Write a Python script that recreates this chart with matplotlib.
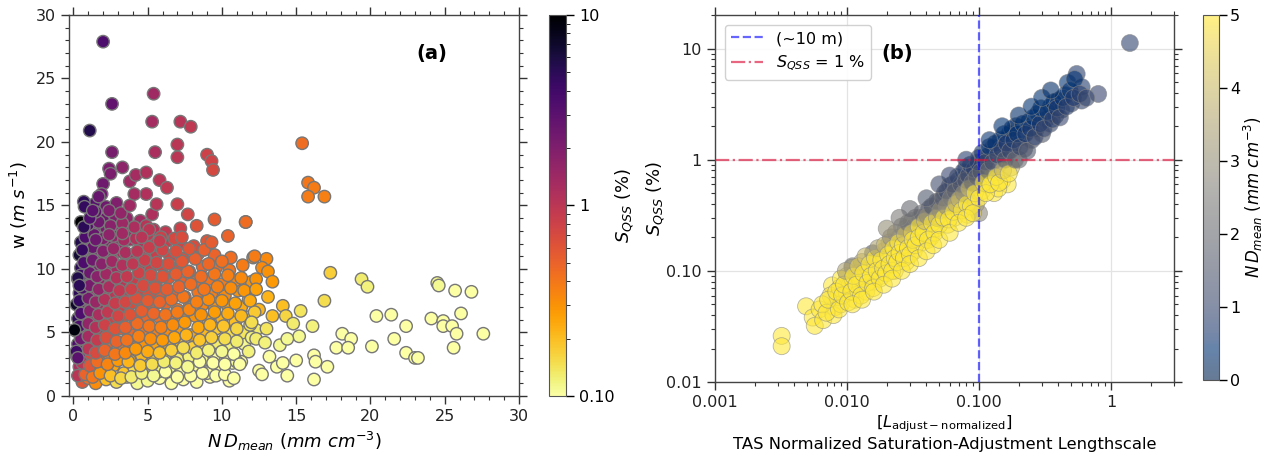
import numpy as np
import matplotlib.pyplot as plt
from matplotlib.colors import LogNorm, Normalize
from matplotlib.ticker import MultipleLocator, LogLocator, FixedLocator, NullFormatter

# ---- panel (a): w vs N*Dmean, coloured by S_QSS ----
# sparse points at the edges of the cloud
nd_edge = [2.0, 1.1, 2.6, 5.4, 5.3, 7.2, 7.9, 5.5, 7.0, 7.0, 9.0, 9.3, 9.4, 15.4, 15.8, 16.2,
           15.8, 16.9, 2.6, 2.4, 3.3, 2.5, 2.0, 1.9, 1.7, 0.7, 0.75, 0.5, 0.7, 1.1, 1.3, 3.8,
           4.2, 4.9, 4.1, 4.9, 5.6, 3.8, 5.8, 6.3, 7.0, 7.7, 9.5, 11.6, 8.3, 7.3, 10.4, 9.3,
           12.2, 2.4, 3.3, 1.5, 0.6, 5.1, 5.8, 4.6, 0.3, 0.4, 0.07, 0.2, 0.3]
w_edge = [27.9, 20.9, 23.0, 23.8, 21.6, 21.6, 21.2, 19.2, 19.8, 18.8, 19.0, 18.5, 17.8, 19.9, 16.8, 16.4,
          15.7, 15.7, 19.2, 17.9, 18.0, 17.5, 16.7, 15.9, 15.7, 15.3, 14.9, 13.7, 13.3, 14.0, 14.6, 16.9,
          17.4, 17.6, 15.9, 15.9, 15.1, 15.0, 17.0, 16.4, 15.1, 14.3, 13.9, 13.7, 13.4, 12.5, 12.6, 12.1,
          11.0, 12.7, 12.8, 12.3, 11.5, 13.1, 12.2, 12.5, 9.3, 8.7, 5.2, 3.5, 3.0]
s_edge = [3.5, 5.5, 2.8, 1.4, 1.3, 1.05, 0.95, 1.2, 1.0, 1.0, 0.8, 0.78, 0.72, 0.45, 0.4, 0.38,
          0.38, 0.36, 2.2, 2.1, 1.7, 2.1, 2.4, 2.4, 2.6, 5.0, 4.6, 10.0, 5.0, 3.4, 3.0, 1.4,
          1.3, 1.15, 1.3, 1.15, 1.05, 1.4, 1.05, 0.95, 0.85, 0.75, 0.55, 0.45, 0.62, 0.68, 0.5, 0.55,
          0.38, 1.7, 1.4, 2.5, 4.5, 1.0, 0.9, 1.05, 5.5, 5.0, 9.0, 4.0, 3.0]

# dense core of the cloud, read row by row
nd_core = [0.6, 1.0, 1.5, 2.2, 2.9, 3.6, 4.3, 5.0, 5.8, 6.6, 7.4, 8.3, 9.2, 10.5,
           0.4, 0.9, 1.4, 2.0, 2.7, 3.4, 4.1, 4.9, 5.7, 6.5, 7.3, 8.1, 9.0, 9.8, 10.7,
           0.2, 0.7, 1.2, 1.8, 2.4, 3.1, 3.8, 4.6, 5.4, 6.2, 7.0, 7.8, 8.7, 9.5, 10.4, 11.3,
           0.3, 0.8, 1.3, 1.9, 2.5, 3.2, 4.0, 4.8, 5.6, 6.4, 7.2, 8.0, 8.9, 9.7, 10.6, 11.5,
           0.2, 0.7, 1.2, 1.8, 2.5, 3.2, 3.9, 4.7, 5.5, 6.3, 7.1, 7.9, 8.8, 9.6, 10.5, 11.4, 12.3,
           0.3, 0.8, 1.4, 2.0, 2.7, 3.4, 4.2, 5.0, 5.8, 6.6, 7.4, 8.2, 9.1, 10.0, 10.9, 11.8,
           0.2, 0.7, 1.2, 1.8, 2.4, 3.1, 3.8, 4.6, 5.4, 6.2, 7.0, 7.8, 8.7, 9.5, 10.4, 11.3, 12.5,
           0.4, 0.9, 1.5, 2.1, 2.8, 3.5, 4.3, 5.1, 5.9, 6.7, 7.5, 8.4, 9.3, 10.2, 11.1,
           0.3, 0.8, 1.3, 1.9, 2.5, 3.2, 4.0, 4.8, 5.6, 6.4, 7.3, 8.2, 9.1, 10.0, 10.9, 12.0,
           0.5, 1.0, 1.6, 2.2, 2.9, 3.6, 4.4, 5.2, 6.0, 6.9, 7.8, 8.7, 9.6, 10.5, 11.4,
           0.4, 0.9, 1.4, 2.0, 2.6, 3.3, 4.0, 4.8, 5.6, 6.5, 7.4, 8.4, 9.5, 10.6,
           0.5, 1.1, 1.7, 2.3, 3.0, 3.8, 4.6, 5.5, 6.3, 7.2, 8.1, 9.0,
           0.9, 1.5, 2.2, 2.9, 3.7, 4.5, 5.4, 6.2, 7.2,
           1.3, 2.0, 2.8, 3.6, 4.5, 5.3,
           1.4, 2.2, 2.9]
w_core = [1.1, 1.4, 1.0, 1.3, 1.1, 1.5, 1.0, 1.2, 1.4, 1.0, 1.3, 1.1, 1.5, 1.2,
          2.3, 1.9, 2.2, 2.0, 2.4, 1.8, 2.2, 2.5, 1.9, 2.3, 2.0, 2.4, 1.8, 2.2, 2.6,
          3.2, 2.9, 3.1, 2.8, 3.3, 3.0, 2.8, 3.2, 3.0, 3.3, 2.9, 3.1, 2.8, 3.2, 3.0, 2.7,
          4.1, 3.8, 4.2, 3.9, 4.3, 4.0, 3.8, 4.2, 3.9, 4.1, 4.3, 3.8, 4.0, 4.2, 3.9, 4.1,
          5.1, 4.8, 5.2, 4.9, 5.0, 5.3, 4.8, 5.1, 4.9, 5.2, 5.0, 4.8, 5.1, 5.3, 4.9, 5.0, 5.2,
          6.1, 5.9, 6.2, 5.8, 6.0, 6.3, 5.9, 6.1, 6.2, 5.8, 6.0, 6.3, 5.9, 6.1, 5.8, 6.2,
          7.2, 6.9, 7.1, 7.3, 6.8, 7.0, 7.2, 6.9, 7.1, 7.3, 6.8, 7.0, 7.2, 6.9, 7.1, 7.0, 6.8,
          8.1, 7.9, 8.2, 8.0, 7.8, 8.3, 8.1, 7.9, 8.2, 8.0, 7.8, 8.2, 8.1, 7.9, 8.3,
          9.2, 8.9, 9.1, 9.3, 8.8, 9.0, 9.2, 8.9, 9.1, 9.3, 8.9, 9.0, 9.2, 8.8, 9.1, 9.0,
          10.1, 9.9, 10.2, 10.0, 9.8, 10.3, 10.1, 9.9, 10.2, 10.0, 9.8, 10.2, 10.1, 9.9, 10.3,
          11.1, 10.9, 11.2, 11.0, 10.8, 11.3, 11.1, 10.9, 11.2, 11.0, 10.8, 11.2, 11.1, 10.9,
          12.1, 11.9, 12.2, 12.0, 11.8, 12.3, 12.1, 11.9, 12.2, 12.0, 11.8, 12.2,
          13.1, 12.9, 13.2, 13.0, 12.8, 13.3, 13.1, 12.9, 13.2,
          14.1, 13.9, 14.2, 14.0, 13.8, 14.3,
          15.1, 14.9, 15.2]
s_core = [0.6, 0.45, 0.32, 0.2, 0.15, 0.13, 0.11, 0.11, 0.1, 0.1, 0.1, 0.1, 0.1, 0.1,
          1.2, 0.6, 0.45, 0.35, 0.25, 0.19, 0.15, 0.13, 0.12, 0.11, 0.1, 0.1, 0.1, 0.1, 0.1,
          3.0, 1.0, 0.7, 0.5, 0.38, 0.3, 0.25, 0.21, 0.17, 0.15, 0.13, 0.12, 0.11, 0.1, 0.1, 0.1,
          3.5, 1.3, 0.9, 0.65, 0.5, 0.42, 0.36, 0.3, 0.26, 0.23, 0.2, 0.17, 0.15, 0.13, 0.12, 0.11,
          6.0, 1.8, 1.15, 0.85, 0.65, 0.54, 0.47, 0.41, 0.37, 0.33, 0.29, 0.25, 0.21, 0.18, 0.15, 0.14, 0.13,
          5.0, 2.0, 1.3, 1.0, 0.78, 0.64, 0.55, 0.48, 0.43, 0.38, 0.34, 0.3, 0.27, 0.23, 0.2, 0.17,
          7.0, 2.4, 1.6, 1.2, 0.95, 0.8, 0.68, 0.6, 0.53, 0.47, 0.42, 0.38, 0.34, 0.3, 0.27, 0.24, 0.22,
          5.0, 2.5, 1.7, 1.3, 1.0, 0.85, 0.73, 0.64, 0.57, 0.51, 0.46, 0.41, 0.37, 0.33, 0.3,
          6.5, 3.0, 2.0, 1.5, 1.2, 1.0, 0.85, 0.74, 0.66, 0.58, 0.52, 0.47, 0.42, 0.38, 0.35, 0.3,
          5.0, 3.0, 2.1, 1.6, 1.3, 1.1, 0.93, 0.82, 0.72, 0.64, 0.57, 0.5, 0.45, 0.41, 0.38,
          6.5, 3.5, 2.5, 1.9, 1.55, 1.28, 1.1, 0.95, 0.84, 0.73, 0.64, 0.56, 0.5, 0.45,
          5.5, 3.2, 2.4, 1.9, 1.55, 1.28, 1.1, 0.96, 0.86, 0.76, 0.68, 0.6,
          4.5, 2.9, 2.2, 1.75, 1.45, 1.25, 1.07, 0.95, 0.82,
          3.5, 2.5, 1.95, 1.6, 1.35, 1.18,
          3.2, 2.4, 1.95]

# points lying between the rows above
nd_mid = [0.3, 0.8, 1.3, 1.8, 2.5, 3.2, 3.9, 4.6, 5.4, 6.2, 7.0, 7.9, 8.7, 9.6, 10.2,
          0.6, 1.1, 1.6, 2.3, 3.0, 3.7, 4.5, 5.3, 6.1, 6.9, 7.7, 8.5, 9.4, 10.2, 11.0,
          0.5, 1.0, 1.5, 2.1, 2.8, 3.5, 4.2, 5.0, 5.8, 6.6, 7.4, 8.3, 9.1, 10.0, 10.8,
          0.5, 1.0, 1.6, 2.2, 2.9, 3.6, 4.4, 5.2, 6.0, 6.8, 7.6, 8.5, 9.3, 10.2, 11.0, 12.0,
          0.4, 1.0, 1.5, 2.1, 2.8, 3.5, 4.3, 5.1, 5.9, 6.7, 7.5, 8.4, 9.2, 10.1, 11.0, 11.9,
          0.5, 1.1, 1.7, 2.3, 3.0, 3.8, 4.6, 5.4, 6.2, 7.0, 7.8, 8.6, 9.5, 10.4, 11.3, 12.2,
          0.4, 1.0, 1.5, 2.1, 2.8, 3.5, 4.2, 5.0, 5.8, 6.6, 7.4, 8.3, 9.1, 10.0, 10.9, 11.8,
          0.6, 1.1, 1.7, 2.4, 3.1, 3.9, 4.7, 5.5, 6.3, 7.1, 7.9, 8.8, 9.7, 10.6, 11.5,
          0.5, 1.1, 1.6, 2.2, 2.9, 3.6, 4.4, 5.2, 6.0, 6.9, 7.7, 8.6, 9.5, 10.4, 11.3,
          0.7, 1.3, 1.9, 2.6, 3.3, 4.0, 4.8, 5.6, 6.4, 7.3, 8.2, 9.1, 10.0,
          0.7, 1.3, 2.0, 2.7, 3.5, 4.3, 5.1, 6.0, 6.9, 7.8, 8.8,
          0.8, 1.4, 2.0, 2.7, 3.4, 4.2, 5.0, 5.9, 6.8,
          1.0, 1.7, 2.5, 3.3, 4.1, 4.9,
          1.5, 2.4, 3.2]
w_mid = [1.6, 1.7, 1.5, 1.8, 1.6, 1.4, 1.5, 1.8, 1.6, 1.9, 1.5, 1.6, 1.8, 1.6, 1.7,
         2.6, 2.4, 2.7, 2.5, 2.8, 2.7, 2.4, 2.5, 2.7, 2.6, 2.3, 2.7, 2.6, 2.5, 2.7,
         3.5, 3.7, 3.4, 3.6, 3.3, 3.4, 3.7, 3.5, 3.4, 3.6, 3.8, 3.4, 3.6, 3.5, 3.3,
         4.5, 4.7, 4.4, 4.6, 4.3, 4.4, 4.7, 4.5, 4.4, 4.6, 4.8, 4.4, 4.6, 4.5, 4.3, 4.6,
         5.5, 5.7, 5.4, 5.6, 5.3, 5.4, 5.7, 5.5, 5.4, 5.6, 5.8, 5.4, 5.6, 5.5, 5.3, 5.6,
         6.5, 6.7, 6.4, 6.6, 6.3, 6.4, 6.7, 6.5, 6.4, 6.6, 6.8, 6.4, 6.6, 6.5, 6.3, 6.6,
         7.5, 7.7, 7.4, 7.6, 7.3, 7.4, 7.7, 7.5, 7.4, 7.6, 7.8, 7.4, 7.6, 7.5, 7.3, 7.6,
         8.5, 8.7, 8.4, 8.6, 8.3, 8.4, 8.7, 8.5, 8.4, 8.6, 8.8, 8.4, 8.6, 8.5, 8.3,
         9.5, 9.7, 9.4, 9.6, 9.3, 9.4, 9.7, 9.5, 9.4, 9.6, 9.8, 9.4, 9.6, 9.5, 9.3,
         10.5, 10.7, 10.4, 10.6, 10.3, 10.4, 10.7, 10.5, 10.4, 10.6, 10.8, 10.4, 10.6,
         11.5, 11.7, 11.4, 11.6, 11.3, 11.4, 11.7, 11.5, 11.4, 11.6, 11.5,
         12.5, 12.7, 12.4, 12.6, 12.3, 12.4, 12.7, 12.5, 12.4,
         13.5, 13.7, 13.4, 13.6, 13.3, 13.4,
         14.5, 14.6, 14.4]
s_mid = [1.0, 0.5, 0.4, 0.3, 0.2, 0.16, 0.13, 0.12, 0.11, 0.1, 0.1, 0.1, 0.1, 0.1, 0.1,
         1.0, 0.6, 0.45, 0.35, 0.28, 0.22, 0.18, 0.15, 0.13, 0.12, 0.11, 0.1, 0.1, 0.1, 0.1,
         2.0, 1.0, 0.7, 0.5, 0.4, 0.33, 0.28, 0.24, 0.2, 0.17, 0.15, 0.13, 0.12, 0.11, 0.1,
         2.4, 1.3, 0.9, 0.65, 0.5, 0.42, 0.36, 0.32, 0.28, 0.25, 0.22, 0.19, 0.17, 0.15, 0.13, 0.12,
         3.5, 1.6, 1.1, 0.8, 0.62, 0.52, 0.45, 0.4, 0.36, 0.32, 0.28, 0.25, 0.22, 0.19, 0.16, 0.14,
         3.5, 1.8, 1.2, 0.95, 0.75, 0.62, 0.54, 0.48, 0.42, 0.38, 0.34, 0.3, 0.27, 0.24, 0.21, 0.18,
         4.5, 2.2, 1.5, 1.1, 0.88, 0.74, 0.64, 0.56, 0.5, 0.45, 0.4, 0.36, 0.32, 0.29, 0.26, 0.23,
         3.5, 2.2, 1.6, 1.2, 0.95, 0.8, 0.7, 0.62, 0.55, 0.5, 0.45, 0.4, 0.36, 0.32, 0.29,
         4.0, 2.5, 1.8, 1.4, 1.1, 0.92, 0.8, 0.7, 0.62, 0.55, 0.5, 0.45, 0.4, 0.36, 0.33,
         3.5, 2.4, 1.8, 1.4, 1.15, 0.98, 0.85, 0.75, 0.66, 0.58, 0.52, 0.47, 0.43,
         3.8, 2.6, 1.9, 1.5, 1.2, 1.0, 0.88, 0.77, 0.67, 0.6, 0.52,
         3.5, 2.6, 2.0, 1.6, 1.3, 1.1, 0.95, 0.82, 0.72,
         3.2, 2.4, 1.8, 1.45, 1.2, 1.05,
         2.8, 2.0, 1.6]

# pale tail towards high N*Dmean
nd_tail = [17.3, 19.4, 19.8, 24.5, 24.6, 25.7, 26.8, 16.9, 20.4, 21.4, 22.4, 24.1, 24.9, 24.9,
           25.5, 25.8, 26.1, 27.6, 25.6, 21.6, 22.4, 23.0, 23.2, 20.1, 18.1, 18.7, 17.7, 18.5,
           16.1, 15.3, 15.2, 16.2, 16.3, 17.1, 16.2, 15.0, 14.4, 14.1, 13.4, 14.3, 14.8, 13.9,
           14.4, 12.5, 12.7, 13.7, 14.1, 13.2, 11.6, 12.1, 13.0, 12.7, 13.1, 13.4, 12.3, 12.3,
           13.1, 11.9, 11.8, 12.3, 12.0, 11.2, 10.8, 12.9, 13.0]
w_tail = [9.7, 9.2, 8.6, 8.9, 8.7, 8.3, 8.2, 7.5, 6.3, 6.4, 5.5, 6.1, 5.9, 5.5,
          5.5, 4.9, 6.5, 4.9, 3.8, 4.5, 3.4, 3.0, 3.0, 3.9, 4.9, 4.5, 3.8, 3.8,
          5.5, 6.7, 4.7, 3.2, 2.7, 2.3, 1.3, 2.8, 1.6, 7.1, 6.3, 6.3, 5.7, 4.0,
          4.5, 2.0, 1.7, 2.3, 2.6, 3.1, 13.7, 10.9, 10.8, 10.1, 9.8, 9.0, 9.2, 8.4,
          7.8, 7.5, 3.5, 4.5, 5.8, 2.5, 1.4, 4.2, 5.3]
s_tail = [0.17, 0.13, 0.12, 0.11, 0.11, 0.1, 0.1, 0.15, 0.1, 0.1, 0.1, 0.1, 0.1, 0.1,
          0.1, 0.1, 0.1, 0.1, 0.1, 0.1, 0.1, 0.1, 0.1, 0.1, 0.1, 0.1, 0.1, 0.1,
          0.12, 0.14, 0.11, 0.1, 0.1, 0.1, 0.1, 0.1, 0.1, 0.2, 0.2, 0.16, 0.13, 0.11,
          0.11, 0.1, 0.1, 0.1, 0.1, 0.1, 0.45, 0.35, 0.33, 0.33, 0.3, 0.28, 0.3, 0.26,
          0.22, 0.24, 0.12, 0.13, 0.15, 0.1, 0.1, 0.12, 0.14]

# ---- panel (b): S_QSS vs normalized adjustment lengthscale, coloured by N*Dmean ----
l_b = [0.0032, 0.0032, 0.0049, 0.0055, 0.0057, 0.0062, 0.0066, 0.0077, 0.0081, 0.0075, 0.0085,
       0.0079, 0.0088, 0.009, 0.010, 0.010, 0.0105, 0.011, 0.0115, 0.012, 0.0125, 0.012, 0.013,
       0.013, 0.014, 0.0157, 0.011, 0.015, 0.016, 0.017, 0.018, 0.019, 0.02, 0.021, 0.022,
       0.023, 0.024, 0.025, 0.026, 0.028, 0.028, 0.03, 0.031, 0.032, 0.034, 0.036, 0.037,
       0.04, 0.042, 0.043, 0.045, 0.047, 0.05, 0.052, 0.055, 0.056, 0.058, 0.06, 0.062,
       0.065, 0.068, 0.07, 0.072, 0.075, 0.078, 0.08, 0.082, 0.085, 0.088, 0.09, 0.095,
       0.1, 0.1, 0.1, 0.105, 0.11, 0.115, 0.12, 0.125, 0.128, 0.13, 0.14, 0.145, 0.15,
       0.16, 0.17, 0.175, 0.18, 0.19, 0.2, 0.21, 0.22, 0.24, 0.25, 0.27, 0.28, 0.3, 0.32,
       0.345, 0.35, 0.38, 0.4, 0.42, 0.45, 0.47, 0.5, 0.55, 0.6, 0.6, 0.8, 1.39,
       0.165, 0.14, 0.009, 0.011, 0.014, 0.017, 0.019, 0.021, 0.024, 0.027, 0.033, 0.038]
s_b = [0.026, 0.021, 0.048, 0.038, 0.032, 0.045, 0.036, 0.074, 0.047, 0.06, 0.058,
       0.04, 0.07, 0.05, 0.063, 0.09, 0.075, 0.107, 0.055, 0.068, 0.077, 0.095, 0.12,
       0.085, 0.065, 0.144, 0.11, 0.10, 0.08, 0.12, 0.09, 0.15, 0.11, 0.18, 0.13,
       0.10, 0.16, 0.2, 0.14, 0.12, 0.24, 0.18, 0.28, 0.15, 0.22, 0.3, 0.18,
       0.26, 0.36, 0.2, 0.33, 0.24, 0.42, 0.29, 0.5, 0.34, 0.26, 0.58, 0.4,
       0.3, 0.48, 0.65, 0.36, 0.55, 0.42, 0.85, 0.32, 0.6, 0.48, 0.75, 0.4,
       1.04, 0.65, 0.33, 0.52, 0.85, 0.6, 1.1, 0.72, 1.28, 0.5, 0.9, 1.5, 0.65,
       1.1, 1.7, 0.85, 1.3, 2.0, 1.0, 1.6, 1.25, 2.2, 1.5, 1.9, 2.6, 1.7, 2.3,
       2.1, 3.0, 2.5, 3.4, 2.8, 3.8, 4.9, 3.2, 5.9, 3.4, 4.5, 3.9, 11.2,
       0.6, 0.55, 0.085, 0.085, 0.1, 0.1, 0.125, 0.14, 0.13, 0.17, 0.2, 0.25]
nd_b = [8, 8, 6, 6, 7, 5.5, 7, 5, 6, 4.8, 6,
        7, 5, 7, 6, 4.5, 5, 4.0, 8, 6, 5, 5, 3.8,
        6, 7, 1.5, 2.5, 5, 6, 5, 6, 4, 6, 4, 5,
        7, 5, 4.5, 6, 8, 3.5, 5, 3, 6, 5, 2.5, 6,
        5, 2, 7, 3, 5, 2.2, 4, 1.5, 3, 6, 1.5, 2.5,
        5, 2.5, 1.2, 4, 2, 3, 1.0, 5, 2.5, 3.5, 1.5, 4,
        0.9, 2.5, 2.8, 5, 1.8, 6, 1.2, 5, 0.8, 5, 2.5, 0.5, 5,
        1.5, 0.3, 4, 1.0, 0.6, 2.0, 0.8, 1.5, 0.4, 1.2, 0.8, 0.5, 1.5, 0.8,
        0.9, 0.5, 1.0, 0.6, 0.9, 0.5, 0.4, 1.0, 0.8, 0.9, 0.7, 1.0, 0.9,
        5, 6, 6, 7, 6, 7, 5, 6, 7, 6, 7, 5]

# extra points filling the band
l_b2 = [0.0065, 0.007, 0.0072, 0.0083, 0.0087, 0.0092, 0.0095, 0.0098, 0.0102, 0.0108, 0.0112,
        0.0118, 0.0122, 0.0128, 0.0133, 0.0138, 0.0143, 0.0148, 0.0152, 0.0158, 0.0163, 0.0168,
        0.0172, 0.0177, 0.0182, 0.0188, 0.0193, 0.0198,
        0.0205, 0.021, 0.0215, 0.022, 0.0225, 0.023, 0.0235, 0.024, 0.0245, 0.025, 0.026, 0.0265,
        0.027, 0.0275, 0.029, 0.029, 0.030, 0.031, 0.0315, 0.033, 0.033, 0.035, 0.035, 0.037,
        0.038, 0.039, 0.041, 0.041, 0.044, 0.044, 0.046, 0.048, 0.048, 0.05, 0.051, 0.053, 0.054,
        0.057, 0.057, 0.059,
        0.061, 0.063, 0.064, 0.066, 0.067, 0.069, 0.071, 0.073, 0.074, 0.076, 0.077, 0.079, 0.081,
        0.083, 0.084, 0.086, 0.087, 0.089, 0.092, 0.093, 0.096, 0.098, 0.1, 0.103, 0.106, 0.108,
        0.112, 0.113, 0.118, 0.12, 0.122, 0.127, 0.133, 0.135, 0.138, 0.142, 0.148, 0.152, 0.155,
        0.158, 0.162, 0.168, 0.172, 0.178, 0.183, 0.188, 0.195, 0.205, 0.215, 0.225, 0.232, 0.245,
        0.26, 0.265, 0.29, 0.295, 0.31, 0.33, 0.36, 0.37, 0.39, 0.41, 0.43, 0.46, 0.49, 0.52,
        0.53, 0.58, 0.65]
s_b2 = [0.05, 0.042, 0.055, 0.065, 0.045, 0.06, 0.075, 0.1, 0.052, 0.065, 0.09,
        0.075, 0.11, 0.06, 0.095, 0.135, 0.078, 0.115, 0.09, 0.07, 0.13, 0.1,
        0.16, 0.085, 0.125, 0.105, 0.17, 0.095,
        0.14, 0.115, 0.2, 0.1, 0.16, 0.13, 0.22, 0.12, 0.18, 0.145, 0.25, 0.17,
        0.13, 0.21, 0.16, 0.27, 0.14, 0.22, 0.19, 0.3, 0.17, 0.25, 0.2, 0.33,
        0.22, 0.28, 0.19, 0.31, 0.27, 0.38, 0.22, 0.3, 0.42, 0.26, 0.35, 0.45, 0.3,
        0.38, 0.52, 0.29,
        0.45, 0.6, 0.34, 0.52, 0.4, 0.7, 0.44, 0.6, 0.35, 0.78, 0.5, 0.65, 0.4,
        0.72, 0.55, 0.9, 0.38, 0.62, 0.82, 0.5, 0.7, 0.95, 0.45, 0.78, 1.15, 0.62,
        0.95, 0.5, 0.8, 1.3, 0.6, 0.95, 1.4, 0.7, 1.1, 0.62, 1.25, 0.8, 1.7,
        1.0, 1.4, 0.75, 1.2, 1.9, 1.5, 1.0, 1.7, 1.3, 2.1, 1.7, 1.2, 1.9,
        2.4, 1.6, 2.1, 2.9, 1.9, 2.7, 2.3, 3.3, 2.9, 2.4, 3.6, 3.0, 4.2, 3.6,
        5.3, 3.9, 3.6]
nd_b2 = [6, 7, 5, 5, 8, 6, 5, 3.5, 7, 6, 5,
         7, 4.5, 8, 6, 4, 7, 5, 6, 8, 5, 6,
         3.5, 8, 5, 6, 4, 7,
         5, 7, 3, 8, 5, 6, 3, 8, 5, 6, 2.5, 5,
         8, 4, 6, 2, 8, 4.5, 6, 2.5, 7, 5, 6, 1.8,
         6, 4, 8, 3, 5, 1.5, 7, 4, 1.8, 6, 3, 1.6, 5,
         3, 1.2, 7,
         2.5, 1.2, 5, 1.8, 4, 1.0, 4, 1.5, 5, 0.8, 3, 1.5, 6,
         1.2, 4, 0.7, 6, 2, 1.0, 5, 1.8, 0.8, 6, 1.5, 0.6, 5,
         1.0, 6, 2, 0.5, 6, 1.2, 0.5, 5, 1.0, 6, 0.8, 4, 0.4,
         1.5, 0.7, 5, 1.0, 0.3, 0.6, 2, 0.5, 1.0, 0.4, 0.6, 1.5, 0.6,
         0.4, 1.0, 0.6, 0.4, 1.0, 0.5, 0.8, 0.4, 0.6, 1.0, 0.5, 0.8, 0.5, 0.7,
         0.4, 0.8, 1.0]

# points along the upper and lower edges of the band
l_b3 = [0.011, 0.013, 0.016, 0.019, 0.022, 0.026, 0.03, 0.035, 0.04, 0.045, 0.05, 0.06,
        0.07, 0.08, 0.09, 0.02, 0.025, 0.03, 0.04, 0.05, 0.06, 0.08, 0.12, 0.15, 0.2,
        0.25, 0.3, 0.35]
s_b3 = [0.05, 0.055, 0.065, 0.075, 0.085, 0.1, 0.115, 0.13, 0.15, 0.17, 0.19, 0.22,
        0.27, 0.3, 0.33, 0.24, 0.3, 0.36, 0.45, 0.6, 0.72, 1.0, 1.5, 2.0, 2.5,
        3.0, 3.6, 4.2]
nd_b3 = [7, 8, 7, 8, 7, 8, 7, 8, 7, 6, 7, 6,
         6, 5, 5, 3, 2.5, 2, 1.5, 1.2, 1.0, 0.8, 0.5, 0.4, 0.3,
         0.4, 0.4, 0.3]

CBAR_A_TICKS = [0.1, 1, 10]
CBAR_A_LABELS = ["0.10", "1", "10"]


def style_axis(ax):
    ax.tick_params(which="both", direction="out", top=True, right=True, labelsize=11.5,
                   colors="#333333", labelcolor="#222222")
    ax.tick_params(which="major", length=6, width=1)
    ax.tick_params(which="minor", length=3, width=0.8)
    for sp in ax.spines.values():
        sp.set_color("#444444")
        sp.set_linewidth(1.0)


fig = plt.figure(figsize=(12.63, 4.57), dpi=100)
ax1 = fig.add_axes([0.0546, 0.1335, 0.3563, 0.8337])
cax1 = fig.add_axes([0.4347, 0.1335, 0.0135, 0.8337])
ax2 = fig.add_axes([0.5661, 0.1641, 0.3634, 0.8030])
cax2 = fig.add_axes([0.9525, 0.1685, 0.0127, 0.7987])

# panel (a)
nd_a = np.array(nd_core + nd_mid + nd_tail + nd_edge)
w_a = np.array(w_core + w_mid + w_tail + w_edge)
s_a = np.array(s_core + s_mid + s_tail + s_edge)
sc1 = ax1.scatter(nd_a, w_a, c=s_a, cmap="inferno_r", norm=LogNorm(vmin=0.1, vmax=10),
                  s=80, edgecolors="#777777", linewidths=1.0, zorder=3)
ax1.set_xlim(-0.3, 30)
ax1.set_ylim(0, 30)
ax1.xaxis.set_major_locator(MultipleLocator(5))
ax1.xaxis.set_minor_locator(MultipleLocator(1))
ax1.yaxis.set_major_locator(MultipleLocator(5))
ax1.yaxis.set_minor_locator(MultipleLocator(1))
style_axis(ax1)
ax1.set_xlabel(r"$N\,D_{mean}$ ($mm\ cm^{-3}$)", fontsize=13)
ax1.set_ylabel(r"w ($m\ s^{-1}$)", fontsize=13)
ax1.text(0.807, 0.9, "(a)", transform=ax1.transAxes, fontsize=14, fontweight="bold",
         ha="center", va="center")

cb1 = fig.colorbar(sc1, cax=cax1)
cb1.set_ticks(CBAR_A_TICKS)
cb1.set_ticklabels(CBAR_A_LABELS)
cb1.ax.tick_params(labelsize=11.5, length=6, width=1)
cb1.ax.tick_params(which="minor", length=3)
cb1.outline.set_edgecolor("#555555")
cb1.set_label(r"$S_{QSS}$ (%)", fontsize=13)
cax1.yaxis.set_label_coords(3.75, 0.5)

# panel (b)
sc2 = ax2.scatter(l_b + l_b2 + l_b3, s_b + s_b2 + s_b3, c=nd_b + nd_b2 + nd_b3, cmap="cividis",
                  norm=Normalize(vmin=0, vmax=5), s=150, alpha=0.6,
                  edgecolors="#888888", linewidths=0.6, zorder=3)
ax2.axvline(0.1, color="blue", alpha=0.6, linestyle="--", linewidth=1.6,
            label="(~10 m)", zorder=4)
ax2.axhline(1.0, color="crimson", alpha=0.65, linestyle="-.", linewidth=1.6,
            label=r"$S_{QSS}$ = 1 %", zorder=4)
ax2.set_xscale("log")
ax2.set_yscale("log")
ax2.set_xlim(0.001, 3)
ax2.set_ylim(0.01, 20)
ax2.xaxis.set_major_locator(FixedLocator([0.001, 0.01, 0.1, 1]))
ax2.set_xticklabels(["0.001", "0.010", "0.100", "1"])
ax2.yaxis.set_major_locator(FixedLocator([0.01, 0.1, 1, 10]))
ax2.set_yticklabels(["0.01", "0.10", "1", "10"])
ax2.xaxis.set_minor_locator(LogLocator(base=10, subs=np.arange(2, 10), numticks=20))
ax2.yaxis.set_minor_locator(LogLocator(base=10, subs=np.arange(2, 10), numticks=20))
ax2.xaxis.set_minor_formatter(NullFormatter())
ax2.yaxis.set_minor_formatter(NullFormatter())
ax2.grid(True, which="major", color="#e3e3e3", linewidth=0.9)
style_axis(ax2)
ax2.set_xlabel("[$L_{\\mathrm{adjust-normalized}}$]\nTAS Normalized Saturation-Adjustment Lengthscale",
               fontsize=11.8, labelpad=2, linespacing=1.25)
ax2.set_ylabel(r"$S_{QSS}$ (%)", fontsize=13)
ax2.yaxis.set_label_coords(-0.105, 0.5)
ax2.text(0.397, 0.896, "(b)", transform=ax2.transAxes, fontsize=14, fontweight="bold",
         ha="center", va="center")
ax2.legend(loc="upper left", fontsize=11.5, framealpha=0.9, edgecolor="#cccccc",
           borderaxespad=0.6)

cb2 = fig.colorbar(sc2, cax=cax2)
cb2.set_ticks([0, 1, 2, 3, 4, 5])
cb2.ax.tick_params(labelsize=11.5, length=6, width=1, pad=2)
cb2.outline.set_edgecolor("#555555")
cb2.set_label(r"$N\,D_{mean}$ ($mm\ cm^{-3}$)", fontsize=12)
cax2.yaxis.set_label_coords(2.4, 0.5)

fig.savefig("out.png", dpi=100)
